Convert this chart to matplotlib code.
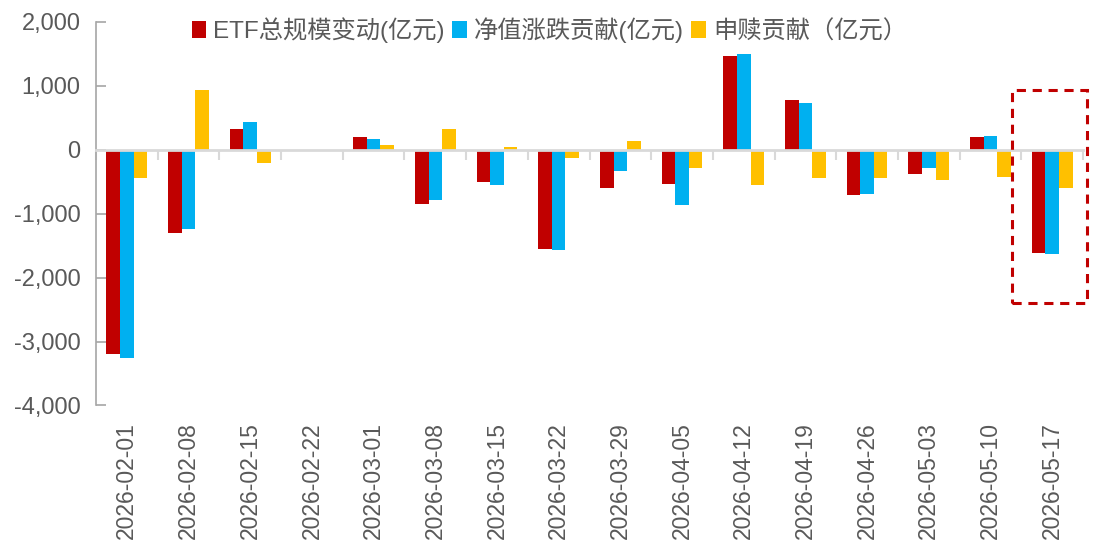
import matplotlib
matplotlib.use("Agg")
import matplotlib.pyplot as plt
from matplotlib.patches import Rectangle
from matplotlib.ticker import FuncFormatter
import numpy as np

plt.rcParams['font.family'] = ['Liberation Sans', 'Noto Sans CJK SC', 'DejaVu Sans']

dates = ["2026-02-01", "2026-02-08", "2026-02-15", "2026-02-22", "2026-03-01",
         "2026-03-08", "2026-03-15", "2026-03-22", "2026-03-29", "2026-04-05",
         "2026-04-12", "2026-04-19", "2026-04-26", "2026-05-03", "2026-05-10",
         "2026-05-17"]
total_change = [-3200, -1305, 330, 0, 205, -848, -505, -1555, -592, -534,
                1461, 770, -705, -380, 205, -1613]
nav_contrib = [-3255, -1240, 430, 0, 168, -785, -555, -1570, -335, -864,
               1497, 733, -696, -293, 215, -1634]
flow_contrib = [-450, 932, -210, 0, 79, 330, 37, -131, 131, -283,
                -555, -450, -440, -482, -429, -602]
series_names = ["ETF总规模变动(亿元)", "净值涨跌贡献(亿元)", "申赎贡献（亿元）"]
colors = ["#C00000", "#00B0F0", "#FFC000"]

fig = plt.figure(figsize=(11.01, 5.44), dpi=100)
ax = fig.add_axes([0.0872, 0.2546, 0.8965, 0.7054])

x = np.arange(len(dates))
w = 0.22
for k, (vals, c, name) in enumerate(zip([total_change, nav_contrib, flow_contrib], colors, series_names)):
    ax.bar(x + (k - 1) * w, vals, width=w, color=c, label=name, zorder=2)

ax.set_xlim(-0.5, len(dates) - 0.5)
ax.set_ylim(-4000, 2000)
ax.set_yticks(np.arange(-4000, 2001, 1000))
ax.yaxis.set_major_formatter(FuncFormatter(lambda v, p: f"{int(v):,}"))

text_color = "#595959"
axis_color = "#A6A6A6"
for s in ["top", "right"]:
    ax.spines[s].set_visible(False)
ax.spines["left"].set_color(axis_color)
ax.spines["left"].set_linewidth(1.2)
ax.spines["bottom"].set_position(("data", 0))
ax.spines["bottom"].set_color("#D9D9D9")
ax.spines["bottom"].set_linewidth(2)
ax.spines["bottom"].set_zorder(3)

ax.tick_params(axis="y", direction="in", length=7, width=1.2, color=axis_color,
               labelsize=17, labelcolor=text_color, pad=11)

# boundary ticks on the zero line
ax.set_xticks(np.arange(len(dates) + 1) - 0.5)
ax.set_xticklabels([])
ax.tick_params(axis="x", direction="out", length=7, width=1.5, color="#D9D9D9")

# date labels at the bottom
sec = ax.secondary_xaxis(0)
sec.set_xticks(x)
sec.set_xticklabels(dates, rotation=90, fontsize=16.5, color=text_color)
sec.tick_params(length=0, pad=12)
sec.spines["bottom"].set_visible(False)

# highlight box
rect = Rectangle((14.345, -2405), 1.22, 3345, fill=False, edgecolor="#C00000",
                 linestyle=(0, (3, 2.2)), linewidth=2.2, clip_on=False, zorder=4)
ax.add_patch(rect)

leg = fig.legend(loc="center", bbox_to_anchor=(0.499, 0.944), ncol=3, frameon=False,
                 fontsize=17.5, handlelength=0.6, handleheight=0.7, handletextpad=0.3,
                 columnspacing=0.3, borderaxespad=0)
for t in leg.get_texts():
    t.set_color(text_color)

fig.savefig("out.png", dpi=100)
